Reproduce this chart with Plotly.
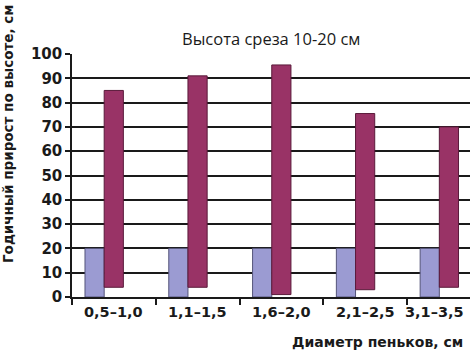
import plotly.graph_objects as go

categories = ["0,5–1,0", "1,1–1,5", "1,6–2,0", "2,1–2,5", "3,1–3,5"]
lavender_values = [20, 20, 20, 20, 20]
maroon_top = [85, 91, 95.5, 75.5, 70]
maroon_base = [4, 4, 1, 3, 4]
y_ticks = list(range(0, 101, 10))

title_text = "Высота среза 10-20 см"
x_title = "Диаметр пеньков, см"
y_title = "Годичный прирост по высоте, см"

W, H = 470, 353
L, R, T, B = 72, 0, 54, 56
PH = H - T - B
PW = W - L - R

def py(pix):
    return (H - B - pix) / PH

def px(pix):
    return (pix - L) / PW

fig = go.Figure()
fig.add_trace(go.Bar(
    x=categories, y=lavender_values,
    offset=-0.345, width=0.229,
    marker=dict(color="#9b9bd2", line=dict(color="#55557a", width=1)),
))
fig.add_trace(go.Bar(
    x=categories, y=[t - b for t, b in zip(maroon_top, maroon_base)], base=maroon_base,
    offset=-0.116, width=0.229,
    marker=dict(color="#993366", line=dict(color="#5a1a3a", width=1)),
))

bold = dict(family="DejaVu Sans", size=15, color="#1a1a1a", weight="bold")
cat_font = dict(family="DejaVu Sans", size=14.5, color="#1a1a1a", weight="bold")

annotations = []
for i, c in enumerate(categories):
    annotations.append(dict(
        x=c, xref="x", y=py(312), yref="paper", text=c, showarrow=False,
        xanchor="center", yanchor="middle", font=cat_font,
        xshift=-15 if i == len(categories) - 1 else 0,
    ))
annotations.append(dict(
    x=px(465), xref="paper", y=py(342), yref="paper", text=x_title, showarrow=False,
    xanchor="right", yanchor="middle",
    font=dict(family="DejaVu Sans", size=14, color="#1a1a1a", weight="bold"),
))
annotations.append(dict(
    x=px(8), xref="paper", y=py(134), yref="paper", text=y_title, showarrow=False,
    xanchor="center", yanchor="middle", textangle=-90,
    font=dict(family="DejaVu Sans", size=13.5, color="#1a1a1a", weight="bold"),
))
annotations.append(dict(
    x=0.5, xref="paper", y=py(38), yref="paper", text=title_text, showarrow=False,
    xanchor="center", yanchor="middle",
    font=dict(family="Open Sans", size=16.5, color="#1a1a1a"),
))

fig.update_layout(
    width=W, height=H,
    margin=dict(l=L, r=R, t=T, b=B),
    paper_bgcolor="white", plot_bgcolor="white",
    showlegend=False, barmode="overlay",
    annotations=annotations,
    xaxis=dict(
        type="category", range=[-0.5, 4.25], showticklabels=False,
        tickson="boundaries", ticks="outside", ticklen=6, tickwidth=1.5, tickcolor="#1a1a1a",
        showline=True, linecolor="#1a1a1a", linewidth=1.5, showgrid=False, zeroline=False,
    ),
    yaxis=dict(
        range=[0, 100], tickvals=y_ticks, ticktext=[str(v) for v in y_ticks],
        ticks="outside", ticklen=5, tickwidth=1.5, tickcolor="#1a1a1a",
        showline=True, linecolor="#1a1a1a", linewidth=1.5,
        showgrid=True, gridcolor="#1a1a1a", gridwidth=1.5, zeroline=False,
        tickfont=bold,
    ),
)

fig.write_html(
    "out.html",
    config={"displayModeBar": False},
    post_script="document.body.style.margin='0';document.body.style.padding='0';document.body.style.overflow='hidden';",
)
